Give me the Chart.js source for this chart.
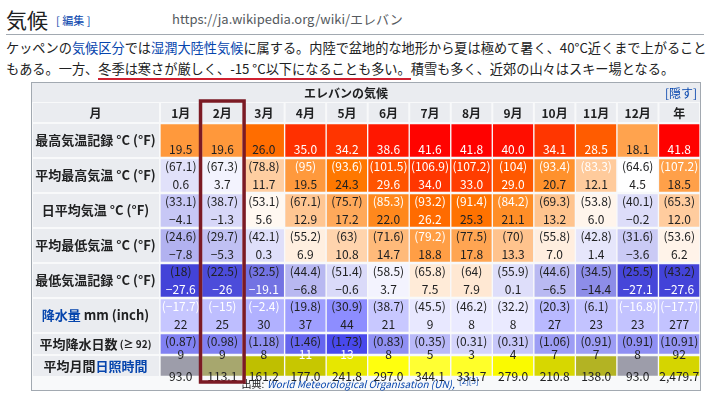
<!DOCTYPE html>
<html><head><meta charset="utf-8">
<script src="https://cdn.jsdelivr.net/npm/chart.js@4"></script>
<style>
body{margin:0;width:710px;height:401px;background:#fff;font-family:"Noto Sans CJK JP",sans-serif;color:#202122;position:relative;overflow:hidden}
#h{position:absolute;left:6px;top:4px;font-size:21px}
#h small{font-size:11px;color:#0645ad;margin-left:8px;vertical-align:3px}
#url{position:absolute;left:172px;top:9px;font-size:13px;color:#54595d}
#rule{position:absolute;left:6px;right:6px;top:34px;border-top:1px solid #a2a9b1}
#p{position:absolute;left:6px;top:37px;width:704px;font-size:13.2px;line-height:21px}
a{color:#0645ad;text-decoration:none}
u{text-decoration:none;border-bottom:2px solid #d02030}
#wrap{position:absolute;left:31px;top:82px;width:670px;height:310px}
</style></head><body>
<div id="h">気候<small>[ 編集 ]</small></div>
<div id="url">https://ja.wikipedia.org/wiki/エレバン</div>
<div id="rule"></div>
<div id="p">ケッペンの<a>気候区分</a>では<a>湿潤大陸性気候</a>に属する。内陸で盆地的な地形から夏は極めて暑く、40°C近くまで上がることもある。一方、<u>冬季は寒さが厳しく、-15 °C以下になることも多い。</u>積雪も多く、近郊の山々はスキー場となる。</div>
<div id="wrap"><canvas id="c"></canvas></div>
<script>
const months = ['1月','2月','3月','4月','5月','6月','7月','8月','9月','10月','11月','12月','年'];
const recHigh = [19.5,19.6,26.0,35.0,34.2,38.6,41.6,41.8,40.0,34.1,28.5,18.1,41.8];
const recHighF = ['67.1','67.3','78.8','95','93.6','101.5','106.9','107.2','104','93.4','83.3','64.6','107.2'];
const avgHigh = [0.6,3.7,11.7,19.5,24.3,29.6,34.0,33.0,29.0,20.7,12.1,4.5,18.5];
const avgHighF = ['33.1','38.7','53.1','67.1','75.7','85.3','93.2','91.4','84.2','69.3','53.8','40.1','65.3'];
const dailyMean = [-4.1,-1.3,5.6,12.9,17.2,22.0,26.2,25.3,21.1,13.2,6.0,-0.2,12.0];
const dailyMeanF = ['24.6','29.7','42.1','55.2','63','71.6','79.2','77.5','70','55.8','42.8','31.6','53.6'];
const avgLow = [-7.8,-5.3,0.3,6.9,10.8,14.7,18.8,17.8,13.3,7.0,1.4,-3.6,6.2];
const avgLowF = ['18','22.5','32.5','44.4','51.4','58.5','65.8','64','55.9','44.6','34.5','25.5','43.2'];
const recLow = [-27.6,-26,-19.1,-6.8,-0.6,3.7,7.5,7.9,0.1,-6.5,-14.4,-27.1,-27.6];
const recLowF = ['-17.7','-15','-2.4','19.8','30.9','38.7','45.5','46.2','32.2','20.3','6.1','-16.8','-17.7'];
const precip = [22,25,30,37,44,21,9,8,8,27,23,23,277];
const precipIn = ['0.87','0.98','1.18','1.46','1.73','0.83','0.35','0.31','0.31','1.06','0.91','0.91','10.91'];
const rainDays = [9,9,8,11,13,8,5,3,4,7,7,8,92];
const sunHours = [93.0,113.1,161.2,177.0,241.8,297.0,344.1,331.7,279.0,210.8,138.0,93.0,2479.7];

// layout (px units on y scale)
const rowH = [35,35,35,35,35,35,22,22];
const rowTop = rowH.map((h,i)=>rowH.slice(0,i).reduce((a,b)=>a+b,0));
const totalH = rowH.reduce((a,b)=>a+b,0);
const cl = v => Math.max(0,Math.min(255,Math.round(v)));
const rgb = (r,g,b) => `rgb(${cl(r)},${cl(g)},${cl(b)})`;
function tempCol(t){
  if (t >= 4.5) return rgb(255, 255-(t-4.5)*6.8, 255-(t-4.5)*13);
  const k = 255-(4.5-t)*5.6; return rgb(k-8, k-8, 255-(4.5-t)*1.2);
}
function mmCol(v,yr){ if(yr) v/=12; const k=255-v*2.6; return rgb(k,k,255); }
function dayCol(v,yr){ if(yr) v/=12; const k=255-v*14; return rgb(k,k,255-v*1.5); }
function sunCol(v,yr){ if(yr) v/=12; const k=110+v*0.5; return rgb(k,k,Math.max(0,170-(v-93)*3)+(v>280?(v-280)*0.8:0)); }
const minus = s => String(s).replace('-','−');
const c1 = v => minus(v.toFixed(1));
const rows = [
  {name:'最高気温記録', unit:' °C (°F)', v:recHigh, sub:recHighF, col:tempCol, fmt:c1},
  {name:'平均最高気温', unit:' °C (°F)', v:avgHigh, sub:avgHighF, col:tempCol, fmt:c1},
  {name:'日平均気温', unit:' °C (°F)', v:dailyMean, sub:dailyMeanF, col:tempCol, fmt:c1},
  {name:'平均最低気温', unit:' °C (°F)', v:avgLow, sub:avgLowF, col:tempCol, fmt:c1},
  {name:'最低気温記録', unit:' °C (°F)', v:recLow, sub:recLowF, col:tempCol, fmt:v=>Number.isInteger(v)?minus(v):c1(v)},
  {name:'降水量', link:true, unit:' mm (inch)', v:precip, sub:precipIn, col:mmCol, fmt:v=>String(v)},
  {name:'平均降水日数', small:' (≥ 92)', v:rainDays, col:dayCol, fmt:v=>String(v)},
  {name:'平均月間', link2:'日照時間', v:sunHours, col:sunCol, fmt:v=>v>=1000?v.toLocaleString('en',{minimumFractionDigits:1}):v.toFixed(1)}
];

const lum = s => { const m=s.match(/\d+/g).map(Number); return 0.3*m[0]+0.59*m[1]+0.11*m[2]; };
const FONT = '"Noto Sans CJK JP", sans-serif';

const tablePlugin = {
  id:'table',
  beforeDatasetsDraw(ch){
    const {ctx, scales:{x,y}} = ch;
    const L = ch.chartArea.left, R = ch.chartArea.right, T = ch.chartArea.top;
    ctx.save();
    ctx.fillStyle='#f8f9fa'; ctx.fillRect(0,0,ch.width,ch.height-1);
    ctx.strokeStyle='#a2a9b1'; ctx.strokeRect(0.5,0.5,ch.width-1,ch.height-2);
    // title row
    ctx.fillStyle='#eaecf0'; ctx.fillRect(1,1,ch.width-2,19);
    ctx.fillStyle='#202122'; ctx.font='bold 12px '+FONT; ctx.textAlign='center'; ctx.textBaseline='middle';
    ctx.fillText('エレバンの気候', ch.width/2-20, 11);
    ctx.fillStyle='#0645ad'; ctx.font='12px '+FONT; ctx.textAlign='right'; ctx.fillText('[隠す]', ch.width-4, 11);
    // month header
    const step = x.getPixelForValue(1)-x.getPixelForValue(0);
    ctx.fillStyle='#eaecf0'; ctx.fillRect(2,T-20,L-3,19);
    ctx.fillStyle='#202122'; ctx.font='bold 12px '+FONT; ctx.textAlign='center';
    ctx.fillText('月', L/2, T-10);
    months.forEach((m,i)=>{
      const cx = x.getPixelForValue(i);
      ctx.fillStyle='#eaecf0'; ctx.fillRect(cx-step/2+1,T-20,step-2,19);
      ctx.fillStyle='#202122'; ctx.fillText(m,cx,T-10);
    });
    // row labels
    rows.forEach((r,i)=>{
      const t=y.getPixelForValue(rowTop[i]), b=y.getPixelForValue(rowTop[i]+rowH[i]), cy=(t+b)/2;
      ctx.fillStyle='#eaecf0'; ctx.fillRect(2,t+1,L-3,b-t-2);
      const segs=[];
      if(r.link) segs.push([r.name,'#0645ad','bold 13px']); else segs.push([r.name,'#202122','bold 13px']);
      if(r.link2) segs.push([r.link2,'#0645ad','bold 13px']);
      if(r.unit) segs.push([r.unit,'#202122','bold 13px']);
      if(r.small) segs.push([r.small,'#202122','bold 10px']);
      let w=0; segs.forEach(s=>{ctx.font=s[2]+' '+FONT; w+=ctx.measureText(s[0]).width;});
      let px=L/2-w/2; ctx.textAlign='left';
      segs.forEach(s=>{ctx.font=s[2]+' '+FONT; ctx.fillStyle=s[1]; ctx.fillText(s[0],px,cy); px+=ctx.measureText(s[0]).width;});
    });
    // source
    ctx.textAlign='center'; ctx.fillStyle='#202122'; ctx.font='10px '+FONT;
    const sy = y.getPixelForValue(totalH)+7;
    ctx.fillText('出典:', 222, sy);
    ctx.fillStyle='#0645ad'; ctx.font='italic 10px '+FONT; ctx.textAlign='left';
    ctx.fillText('World Meteorological Organisation (UN),', 236, sy);
    ctx.font='8px '+FONT; ctx.fillText('[2][3]', 428, sy-3);
    ctx.restore();
  },
  afterDatasetsDraw(ch){
    const {ctx, scales:{x,y}} = ch;
    ctx.save(); ctx.textAlign='center'; ctx.textBaseline='middle';
    ch.data.datasets.forEach((ds,di)=>{
      const r = rows[di];
      ch.getDatasetMeta(di).data.forEach((el,i)=>{
        const col = r.col(r.v[i], i===12);
        ctx.fillStyle = lum(col)<140 ? '#fff' : '#202122';
        ctx.font='12px '+FONT;
        if(r.sub){
          ctx.fillText(r.fmt(r.v[i]), el.x, el.y-8);
          ctx.fillText('('+minus(r.sub[i])+')', el.x, el.y+9);
        } else ctx.fillText(r.fmt(r.v[i]), el.x, el.y);
      });
    });
    // highlight February
    const step = x.getPixelForValue(1)-x.getPixelForValue(0);
    const fx = x.getPixelForValue(1);
    ctx.strokeStyle='#7b1a24'; ctx.lineWidth=3.5;
    ctx.strokeRect(fx-step/2-1, ch.chartArea.top-22, step+2, y.getPixelForValue(totalH)-ch.chartArea.top+27);
    ctx.restore();
  }
};

new Chart(document.getElementById('c'), {
  type:'bar',
  data:{
    labels: months,
    datasets: rows.map((r,ri)=>({
      data: r.v.map(()=>[rowTop[ri]+0.5, rowTop[ri]+rowH[ri]-0.5]),
      backgroundColor: c => r.col(r.v[c.dataIndex], c.dataIndex===12),
      borderColor:'#f8f9fa', borderWidth:1, borderSkipped:false,
      grouped:false, barPercentage:1, categoryPercentage:1
    }))
  },
  options:{
    responsive:true, maintainAspectRatio:false, animation:false,
    layout:{padding:{left:129, top:41, bottom:15, right:1}},
    plugins:{legend:{display:false}, tooltip:{enabled:false}},
    scales:{
      x:{display:false},
      y:{display:false, reverse:true, min:0, max:totalH}
    }
  },
  plugins:[tablePlugin]
});
</script>
</body></html>
